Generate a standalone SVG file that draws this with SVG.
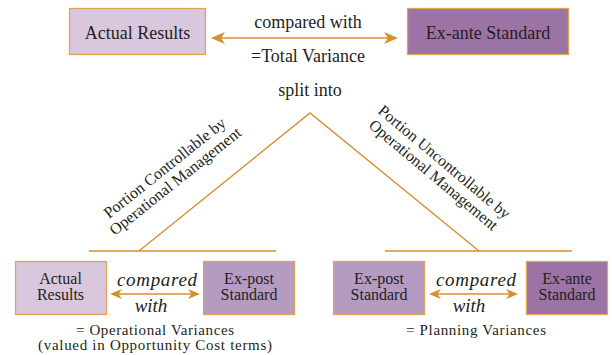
<svg xmlns="http://www.w3.org/2000/svg" width="612" height="355" viewBox="0 0 612 355">
  <defs>
    <style>
      .t { font-family: "Liberation Serif", "DejaVu Serif", serif; fill: #231f20; }
      .top { font-size: 18px; }
      .sm { font-size: 16px; }
      .note { font-size: 15px; }
      .it { font-size: 19px; font-style: italic; }
      .light { fill: #d9c7dd; stroke: #e2a459; stroke-width: 1.3; }
      .mid { fill: #b59bc2; stroke: #e2a459; stroke-width: 1.3; }
      .dark { fill: #9b73a4; stroke: #e2a459; stroke-width: 1.3; }
      .ln { stroke: #d4902c; stroke-width: 1.4; fill: none; }
      .arr { stroke: #d4902c; stroke-width: 1.6; fill: none; }
    </style>
    <marker id="headL" viewBox="0 0 14 12" refX="2" refY="6" markerWidth="14" markerHeight="12" markerUnits="userSpaceOnUse" orient="auto">
      <path d="M14,0 L0,6 L14,12 L10,6 Z" fill="#d4902c"/>
    </marker>
    <marker id="headR" viewBox="0 0 14 12" refX="12" refY="6" markerWidth="14" markerHeight="12" markerUnits="userSpaceOnUse" orient="auto">
      <path d="M0,0 L14,6 L0,12 L4,6 Z" fill="#d4902c"/>
    </marker>
    <marker id="hL" viewBox="0 0 12 10" refX="2" refY="5" markerWidth="12" markerHeight="10" markerUnits="userSpaceOnUse" orient="auto">
      <path d="M12,0 L0,5 L12,10 L8.5,5 Z" fill="#d4902c"/>
    </marker>
    <marker id="hR" viewBox="0 0 12 10" refX="10" refY="5" markerWidth="12" markerHeight="10" markerUnits="userSpaceOnUse" orient="auto">
      <path d="M0,0 L12,5 L0,10 L3.5,5 Z" fill="#d4902c"/>
    </marker>
  </defs>

  <!-- connectors: comparison arrows and split lines -->
  <g id="connectors">
    <line class="arr" x1="213" y1="38" x2="396" y2="38" marker-start="url(#headL)" marker-end="url(#headR)"/>
    <polyline class="ln" points="139,251 310,113 479,251"/>
    <line class="ln" x1="89" y1="251" x2="276" y2="251"/>
    <line class="ln" x1="385" y1="251" x2="572" y2="251"/>
    <line class="arr" x1="112" y1="294" x2="198" y2="294" marker-start="url(#hL)" marker-end="url(#hR)"/>
    <line class="arr" x1="431" y1="294" x2="516" y2="294" marker-start="url(#hL)" marker-end="url(#hR)"/>
  </g>

  <!-- top row -->
  <g id="actual-top">
    <rect class="light" x="69.5" y="8.5" width="136" height="46"/>
    <text class="t top" x="137.5" y="39" text-anchor="middle">Actual Results</text>
  </g>
  <g id="exante-top">
    <rect class="dark" x="407.5" y="8.5" width="161" height="46"/>
    <text class="t top" x="488" y="39" text-anchor="middle">Ex-ante Standard</text>
  </g>
  <g id="labels-top">
    <text class="t top" x="308" y="28" text-anchor="middle">compared with</text>
    <text class="t top" x="308" y="62" text-anchor="middle">=Total Variance</text>
    <text class="t top" x="310" y="96" text-anchor="middle">split into</text>
  </g>

  <!-- branch labels -->
  <g id="label-controllable" transform="translate(168,172) rotate(-38.5)">
    <text class="t sm" x="0" y="0" text-anchor="middle">Portion Controllable by</text>
    <text class="t sm" x="0" y="17" text-anchor="middle">Operational Management</text>
  </g>
  <g id="label-uncontrollable" transform="translate(441,166) rotate(40)">
    <text class="t sm" x="0" y="0" text-anchor="middle">Portion Uncontrollable by</text>
    <text class="t sm" x="0" y="17" text-anchor="middle">Operational Management</text>
  </g>

  <!-- operational branch -->
  <g id="actual-bottom">
    <rect class="light" x="15.5" y="261.5" width="91" height="53"/>
    <text class="t sm" x="60.5" y="284" text-anchor="middle">Actual</text>
    <text class="t sm" x="60.5" y="300" text-anchor="middle">Results</text>
  </g>
  <g id="expost-left">
    <rect class="mid" x="203.5" y="261.5" width="91" height="53"/>
    <text class="t sm" x="249" y="284" text-anchor="middle">Ex-post</text>
    <text class="t sm" x="249" y="300" text-anchor="middle">Standard</text>
  </g>
  <g id="labels-operational">
    <text class="t it" x="157" y="286" text-anchor="middle" textLength="80">compared</text>
    <text class="t it" x="151" y="312" text-anchor="middle">with</text>
    <text class="t note" x="155" y="335" text-anchor="middle" textLength="158">= Operational Variances</text>
    <text class="t note" x="155" y="350" text-anchor="middle" textLength="234">(valued in Opportunity Cost terms)</text>
  </g>

  <!-- planning branch -->
  <g id="expost-right">
    <rect class="mid" x="333.5" y="261.5" width="91" height="53"/>
    <text class="t sm" x="379" y="284" text-anchor="middle">Ex-post</text>
    <text class="t sm" x="379" y="300" text-anchor="middle">Standard</text>
  </g>
  <g id="exante-bottom">
    <rect class="dark" x="526.5" y="261.5" width="81" height="53"/>
    <text class="t sm" x="567" y="284" text-anchor="middle">Ex-ante</text>
    <text class="t sm" x="567" y="300" text-anchor="middle">Standard</text>
  </g>
  <g id="labels-planning">
    <text class="t it" x="476" y="286" text-anchor="middle" textLength="80">compared</text>
    <text class="t it" x="469" y="312" text-anchor="middle">with</text>
    <text class="t note" x="476" y="335" text-anchor="middle" textLength="140">= Planning Variances</text>
  </g>
</svg>
